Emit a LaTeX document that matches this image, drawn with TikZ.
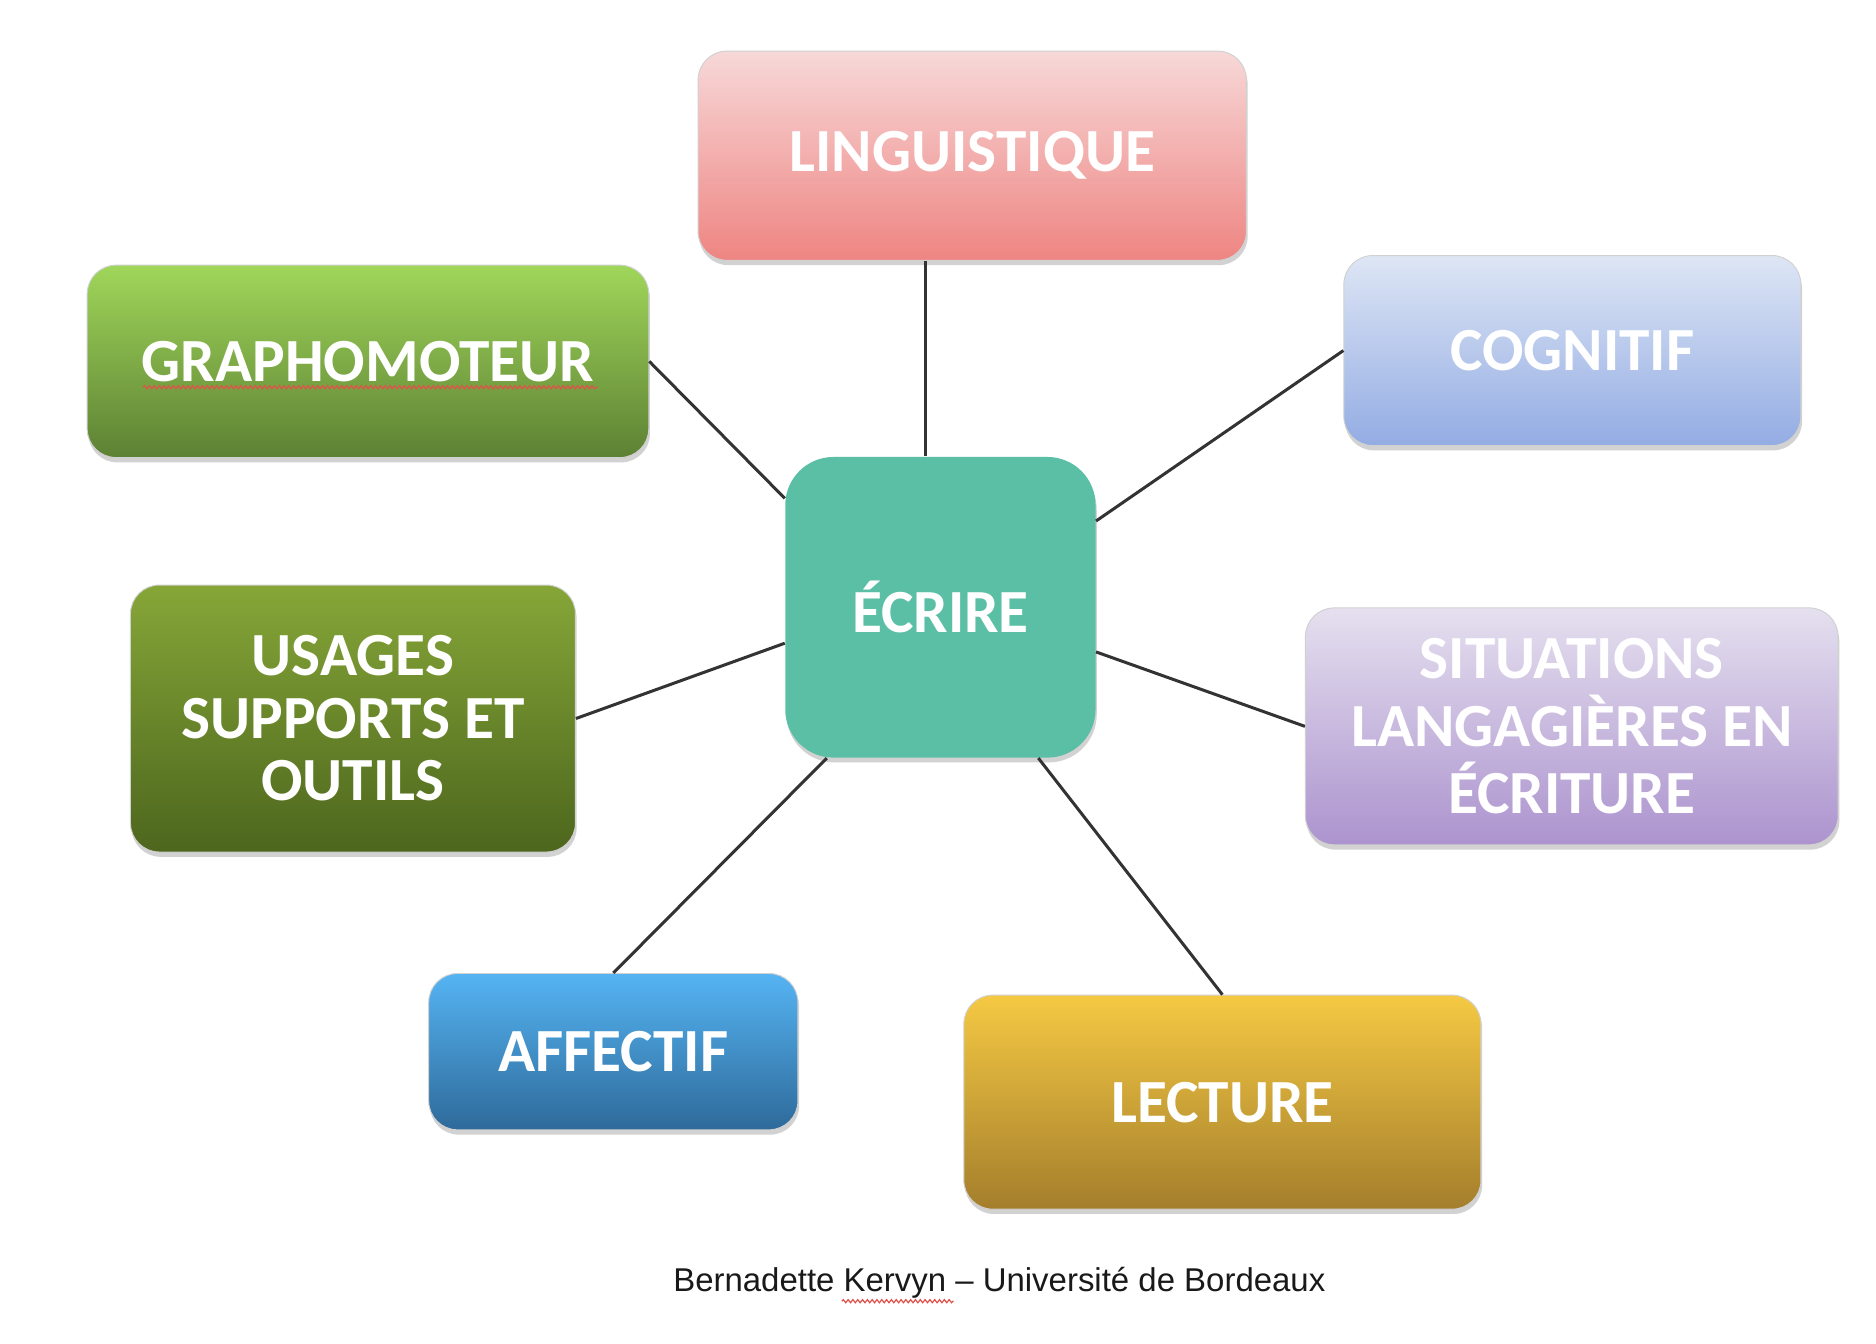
\documentclass[tikz,border=0pt]{standalone}
\usepackage{fontspec}
\setmainfont{Carlito}
\newfontfamily\capfont{Liberation Sans}
\usetikzlibrary{shadows,decorations.pathmorphing}
\definecolor{lingT}{HTML}{F7D8D8}
\definecolor{lingB}{HTML}{EE8582}
\definecolor{graphT}{HTML}{A0D65A}
\definecolor{graphB}{HTML}{5D8134}
\definecolor{cognT}{HTML}{DEE6F5}
\definecolor{cognB}{HTML}{93ACE3}
\definecolor{ecrireC}{HTML}{5BBFA6}
\definecolor{usaT}{HTML}{86A638}
\definecolor{usaB}{HTML}{4D661D}
\definecolor{sitT}{HTML}{E5E0EF}
\definecolor{sitB}{HTML}{AC93CE}
\definecolor{affT}{HTML}{55B4F3}
\definecolor{affB}{HTML}{2E6A9A}
\definecolor{lectT}{HTML}{F5C943}
\definecolor{lectB}{HTML}{A47E2C}
\definecolor{linkC}{HTML}{333333}
\definecolor{spellC}{HTML}{E0524A}
\begin{document}
\begin{tikzpicture}[x=1pt,y=-1pt,
  box/.style={rounded corners=24pt, draw=black!18, line width=0.8pt, text=white,
    font=\fontsize{51}{52}\selectfont\bfseries, align=center, inner sep=0pt,
    drop shadow={shadow xshift=1pt, shadow yshift=-4pt, opacity=0.25, fill=black!70}},
  link/.style={draw=linkC, line width=2.5pt},
  spell/.style={draw=spellC, line width=1pt, decorate,
    decoration={snake, amplitude=1.3pt, segment length=4pt}}]
\useasboundingbox (0,0) rectangle (1560,1117.6);
\fill[white] (0,0) rectangle (1560,1117.6);

\node[box, minimum width=456pt, minimum height=174pt, top color=lingT, bottom color=lingB] (ling) at (808.5,129.5) {LINGUISTIQUE};
\node[box, minimum width=467pt, minimum height=160pt, top color=graphT, bottom color=graphB] (graph) at (306,300.5) {GRAPHOMOTEUR};
\node[box, minimum width=380pt, minimum height=158pt, top color=cognT, bottom color=cognB] (cogn) at (1307.5,291.5) {COGNITIF};
\node[box, rounded corners=40pt, draw=none, minimum width=258pt, minimum height=250pt, fill=ecrireC] (ecrire) at (782,505) {ÉCRIRE};
\node[box, minimum width=370pt, minimum height=222pt, top color=usaT, bottom color=usaB] (usa) at (293.5,597.5) {USAGES\\SUPPORTS ET\\OUTILS};
\node[box, minimum width=443pt, minimum height=197pt, top color=sitT, bottom color=sitB, font=\fontsize{51}{56}\selectfont\bfseries] (sit) at (1307,604) {SITUATIONS\\LANGAGIÈRES EN\\ÉCRITURE};
\node[box, minimum width=307pt, minimum height=130pt, top color=affT, bottom color=affB] (aff) at (510,874.5) {AFFECTIF};
\node[box, minimum width=430pt, minimum height=178pt, top color=lectT, bottom color=lectB] (lect) at (1016.5,916.5) {LECTURE};

\node[font=\capfont\fontsize{27.4}{30}\selectfont, text=black!90, inner sep=0pt] (cap) at (831,1067) {Bernadette Kervyn – Université de Bordeaux};

\draw[link] ([xshift=-12pt]ecrire.north) -- ([xshift=-12pt]ecrire.north |- ling.south);
\draw[link] (graph.east) -- (ecrire.145);
\draw[link] (cogn.west) -- (ecrire.29);
\draw[link] (usa.east) -- (ecrire.193);
\draw[link] (sit.west) -- (ecrire.344);
\draw[link] (aff.north) -- (ecrire.233);
\draw[link] (lect.north) -- (ecrire.303);

\draw[spell] (119,322) -- (497,322);
\draw[spell] (700,1082) -- (793,1082);
\end{tikzpicture}
\end{document}
